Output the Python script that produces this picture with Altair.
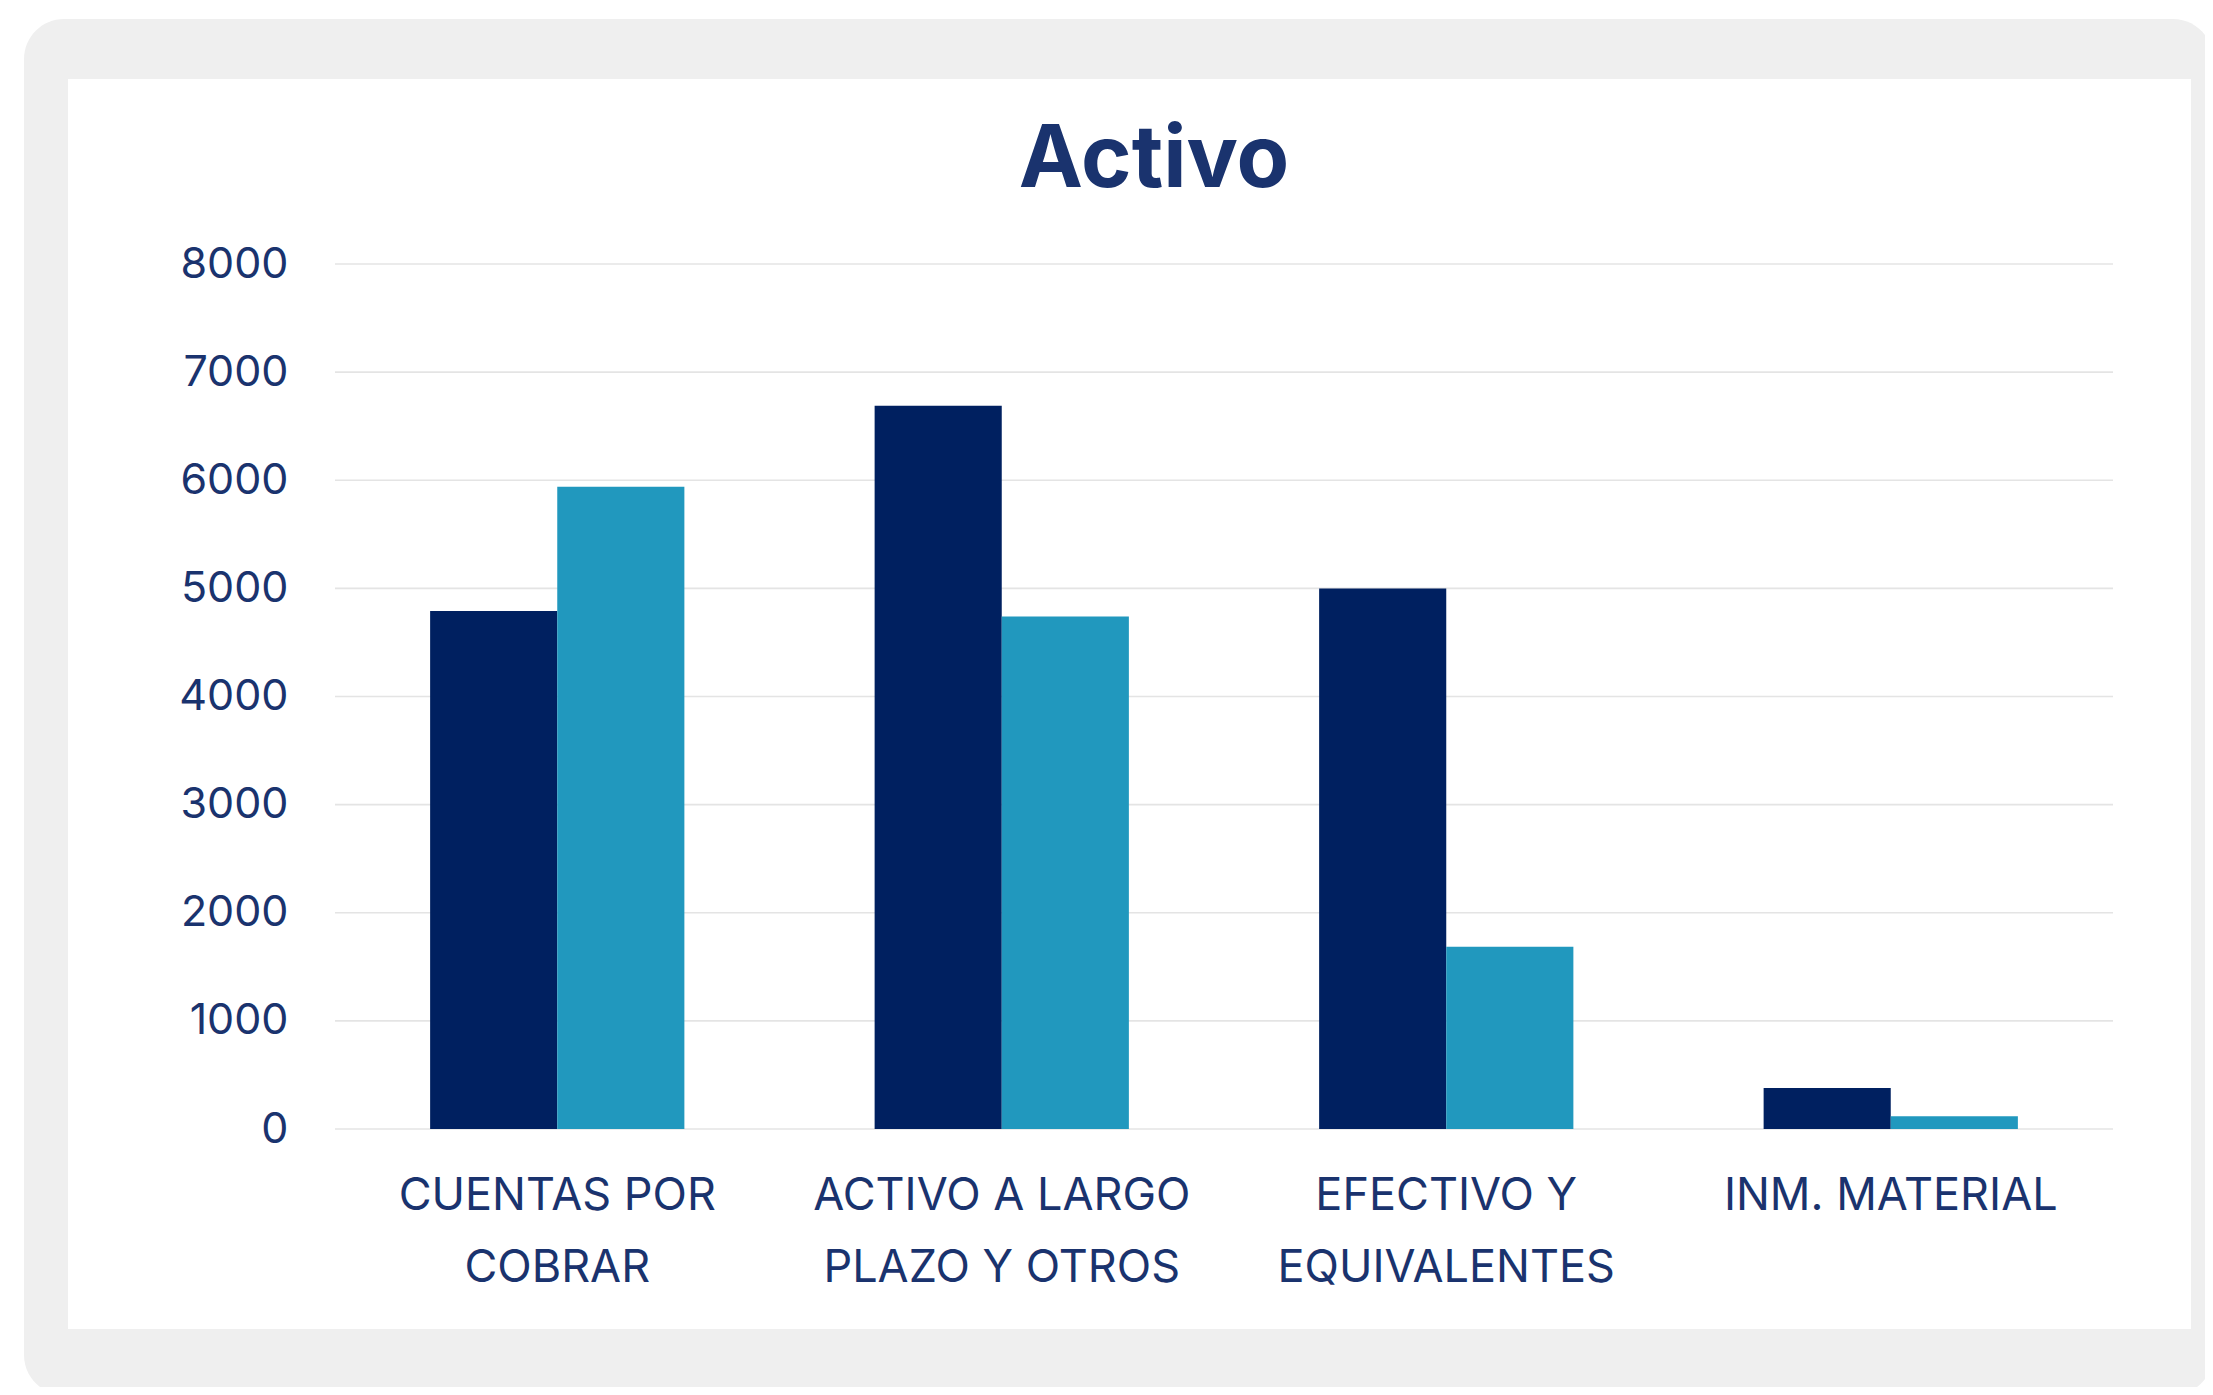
import altair as alt
import pandas as pd

# ---- data ----
title_text = "Activo"
categories = ["CUENTAS POR COBRAR", "ACTIVO A LARGO PLAZO Y OTROS",
              "EFECTIVO Y EQUIVALENTES", "INM. MATERIAL"]
label_lines = [["CUENTAS POR", "COBRAR"], ["ACTIVO A LARGO", "PLAZO Y OTROS"],
               ["EFECTIVO Y", "EQUIVALENTES"], ["INM. MATERIAL"]]
series_names = ["Serie 1", "Serie 2"]
serie1 = [4790, 6690, 5000, 380]
serie2 = [5940, 4740, 1685, 117]
y_ticks = [0, 1000, 2000, 3000, 4000, 5000, 6000, 7000, 8000]

colors = ["#002060", "#2198BE"]
text_color = "#1A336E"
font = "Inter"

rows = []
for c, a, b in zip(categories, serie1, serie2):
    rows.append({"cat": c, "serie": series_names[0], "val": a})
    rows.append({"cat": c, "serie": series_names[1], "val": b})
df = pd.DataFrame(rows)

# label expression for multi-line x labels
parts = []
for c, lines in zip(categories, label_lines):
    arr = "[" + ",".join("'" + l + "'" for l in lines) + "]"
    parts.append(f"datum.label == '{c}' ? {arr}")
label_expr = " : ".join(parts) + " : datum.label"

W, H = 1778, 865

one = pd.DataFrame({"k": [0]})

frame = alt.Chart(one).mark_rect(color="#EFEFEF", cornerRadius=40).encode(
    x=alt.value(-311), x2=alt.value(1878), y=alt.value(-245), y2=alt.value(1131)
)
panel = alt.Chart(one).mark_rect(color="#FFFFFF").encode(
    x=alt.value(-267), x2=alt.value(1856), y=alt.value(-185), y2=alt.value(1065)
)

title = alt.Chart(pd.DataFrame({"t": [title_text]})).mark_text(
    font=font, fontSize=86, fontWeight="bold", color=text_color,
    align="center", baseline="alphabetic"
).encode(text="t:N", x=alt.value(819), y=alt.value(-77))

yscale = alt.Scale(domain=[0, 8000], nice=False)
yaxis = alt.Axis(title=None, values=y_ticks, format="d", domain=False, ticks=False,
                 grid=False, labelPadding=47, labelFontSize=43,
                 labelFont=font, labelColor=text_color, zindex=1)

grid = alt.Chart(pd.DataFrame({"val": y_ticks})).mark_rule(
    color="#E4E4E4", strokeWidth=1.6
).encode(y=alt.Y("val:Q", scale=yscale, axis=yaxis))

bars = alt.Chart(df).mark_bar().encode(
    x=alt.X("cat:N", sort=categories,
            scale=alt.Scale(paddingInner=0.428, paddingOuter=0.214),
            axis=alt.Axis(title=None, labelAngle=0, domain=False, ticks=False,
                          labelPadding=44, labelFontSize=45, labelFont=font,
                          labelColor=text_color, labelLineHeight=72,
                          labelBaseline="top", labelExpr=label_expr,
                          labelLimit=0, zindex=1)),
    xOffset=alt.XOffset("serie:N", sort=series_names,
                        scale=alt.Scale(paddingInner=0, paddingOuter=0)),
    y=alt.Y("val:Q", scale=yscale, axis=yaxis),
    color=alt.Color("serie:N", sort=series_names,
                    scale=alt.Scale(domain=series_names, range=colors),
                    legend=None),
)

chart = alt.layer(frame, panel, grid, bars, title).properties(
    width=W, height=H,
    autosize=alt.AutoSizeParams(type="none"),
    padding={"left": 327, "top": 256, "right": 92, "bottom": 258},
    background="white",
).configure_view(stroke=None)

chart.save("out.html", embed_options={"renderer": "svg", "actions": False})
